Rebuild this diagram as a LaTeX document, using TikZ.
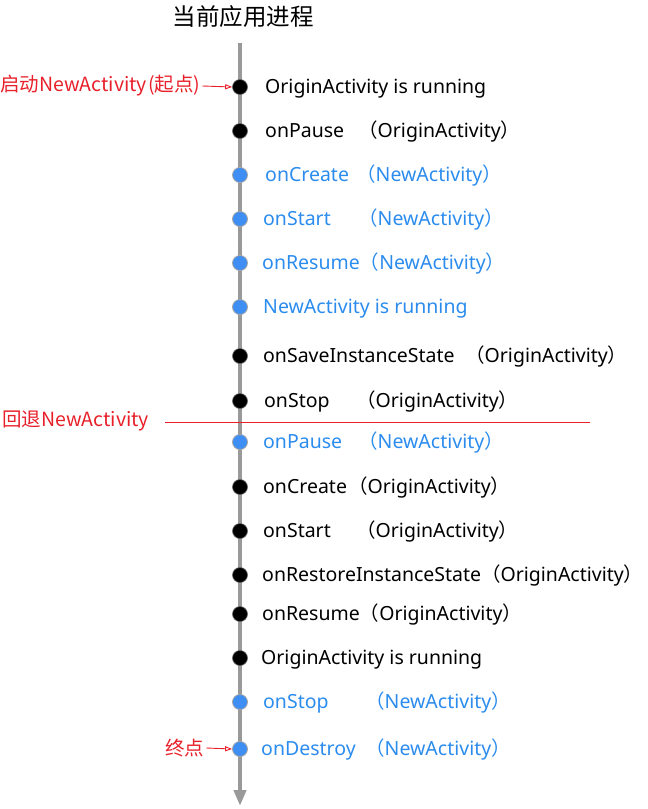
\documentclass[tikz,border=0pt]{standalone}
\usepackage{fontspec}
\setmainfont{Noto Sans}
\newfontfamily\cjk{Noto Sans CJK SC}
\usetikzlibrary{arrows.meta}
\definecolor{myblue}{HTML}{2B8CEE}
\definecolor{dotblue}{HTML}{3F8EF3}
\definecolor{myred}{HTML}{E8202A}
\definecolor{axisgray}{HTML}{999999}
\newcommand{\lp}{{\cjk （}}
\newcommand{\rp}{{\cjk ）}}
\tikzset{
  txt/.style={font=\fontsize{19.5}{22}\selectfont, inner sep=0pt, anchor=base west, text=black},
  btxt/.style={txt, text=myblue},
  rtxt/.style={font=\fontsize{19.5}{22}\selectfont\cjk, inner sep=1pt, text=myred, anchor=west},
  kdot/.style={circle, fill=black, draw=black!60, line width=0.6pt, minimum size=15pt, inner sep=0pt},
  udot/.style={circle, fill=dotblue, draw=black!35, line width=0.8pt, minimum size=15pt, inner sep=0pt},
  axisline/.style={draw=axisgray, line width=4pt, -{Triangle[length=16pt,width=12pt]}},
  redarrow/.style={draw=myred, line width=0.9pt, -{Triangle[open,length=7pt,width=5pt]}},
}
\begin{document}
\begin{tikzpicture}[x=1pt,y=-1pt]
\useasboundingbox (0,0) rectangle (648,809);
\node[font=\fontsize{23.5}{26}\selectfont\cjk, inner sep=0pt] (title) at (243,17) {当前应用进程};
\coordinate (atop) at (240,43);
\coordinate (abot) at (240,806);
\draw[axisline] (atop) -- (abot);

% row 1
\node[kdot] (d1) at (240,87) {};
\node[txt] (t1) at (265,93) {OriginActivity is running};
% row 2
\node[kdot] (d2) at (240,131) {};
\node[txt] (t2) at (265,137) {onPause};
\node[txt] (p2) at (358,137) {\lp OriginActivity\rp};
% row 3
\node[udot] (d3) at (240,175) {};
\node[btxt] (t3) at (265,181) {onCreate};
\node[btxt] (p3) at (356,181) {\lp NewActivity\rp};
% row 4
\node[udot] (d4) at (240,219) {};
\node[btxt] (t4) at (263,225) {onStart};
\node[btxt] (p4) at (358,225) {\lp NewActivity\rp};
% row 5
\node[udot] (d5) at (240,263) {};
\node[btxt] (t5) at (262,269) {onResume\lp NewActivity\rp};
% row 6
\node[udot] (d6) at (240,307) {};
\node[btxt] (t6) at (263,313) {NewActivity is running};
% row 7
\node[kdot] (d7) at (240,356) {};
\node[txt] (t7) at (263,362) {onSaveInstanceState};
\node[txt] (p7) at (465,362) {\lp OriginActivity\rp};
% row 8
\node[kdot] (d8) at (240,401) {};
\node[txt] (t8) at (264,407) {onStop};
\node[txt] (p8) at (356,407) {\lp OriginActivity\rp};
% back line
\coordinate (rl1) at (165,422);
\coordinate (rl2) at (590,422);
\draw[myred, line width=0.8pt] (rl1) -- (rl2);
\node[rtxt] (back) at (1,421) {回退NewActivity};
% row 9
\node[udot] (d9) at (240,442) {};
\node[btxt] (t9) at (263,448) {onPause};
\node[btxt] (p9) at (358,448) {\lp NewActivity\rp};
% row 10
\node[kdot] (d10) at (240,487) {};
\node[txt] (t10) at (263,493) {onCreate};
\node[txt] (p10) at (348,493) {\lp OriginActivity\rp};
% row 11
\node[kdot] (d11) at (240,531) {};
\node[txt] (t11) at (263,537) {onStart};
\node[txt] (p11) at (356,537) {\lp OriginActivity\rp};
% row 12
\node[kdot] (d12) at (240,575) {};
\node[txt] (t12) at (262,581) {onRestoreInstanceState\lp OriginActivity\rp};
% row 13
\node[kdot] (d13) at (240,614) {};
\node[txt] (t13) at (262,620) {onResume\lp OriginActivity\rp};
% row 14
\node[kdot] (d14) at (240,658) {};
\node[txt] (t14) at (261,664) {OriginActivity is running};
% row 15
\node[udot] (d15) at (240,702) {};
\node[btxt] (t15) at (263,708) {onStop};
\node[btxt] (p15) at (365,708) {\lp NewActivity\rp};
% row 16
\node[udot] (d16) at (240,749) {};
\node[btxt] (t16) at (261,755) {onDestroy};
\node[btxt] (p16) at (365,755) {\lp NewActivity\rp};

% red labels
\node[rtxt, inner sep=0pt] (start) at (0,86) {启动NewActivity\kern1pt(起点)};
\draw[redarrow] ([xshift=2pt]start.east) -- (d1.west);
\node[rtxt, inner sep=0pt] (end) at (165,748) {终点};
\draw[redarrow] ([xshift=2pt]end.east) -- (d16.west);
\end{tikzpicture}
\end{document}
